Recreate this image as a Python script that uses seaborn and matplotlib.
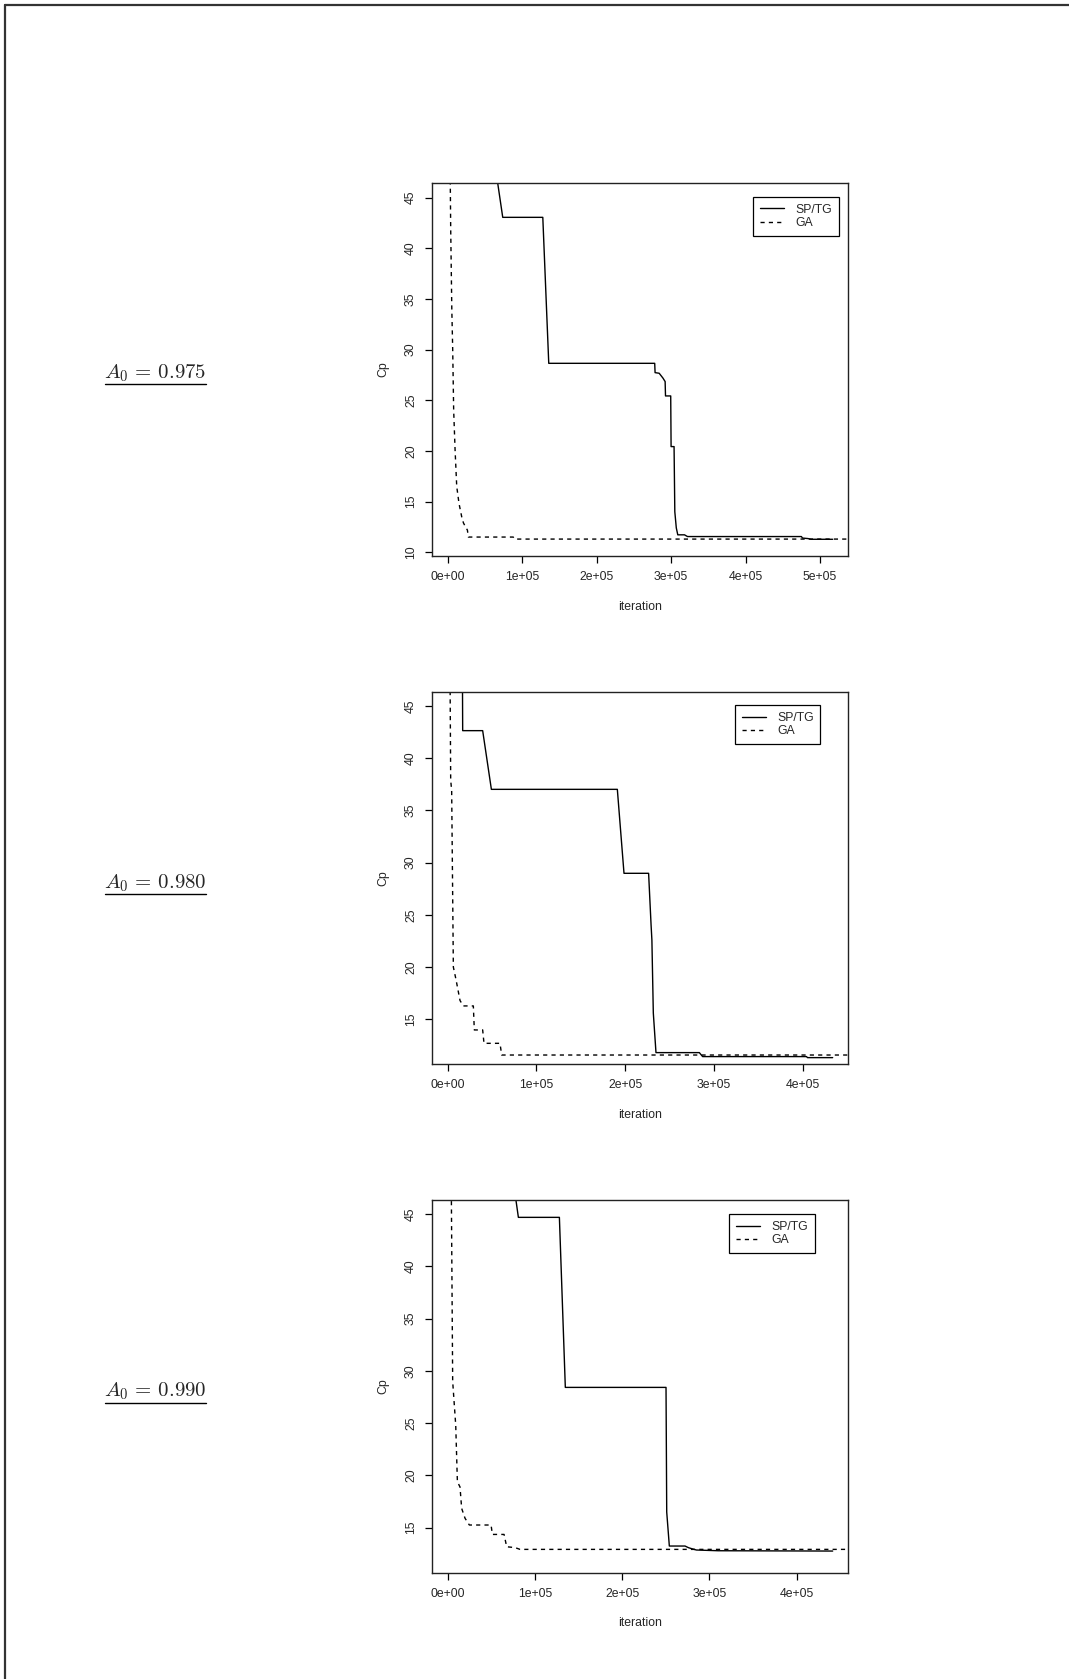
import numpy as np
import pandas as pd
import matplotlib
matplotlib.use("Agg")
import matplotlib.pyplot as plt
from matplotlib.lines import Line2D
import seaborn as sns

# panel labels
a0_labels = [r"$A_0\,=\,0.975$", r"$A_0\,=\,0.980$", r"$A_0\,=\,0.990$"]

# A0 = 0.975
sp1_x = [60000, 73900, 127700, 135700, 278000, 278500, 284000, 289000, 292000, 292500,
         299500, 300000, 304000, 305000, 307000, 309000, 318000, 322000, 475000, 476500,
         484000, 488000, 517000]
sp1_y = [50.0, 43.06, 43.06, 28.65, 28.65, 27.73, 27.67, 27.2, 26.85, 25.43,
         25.43, 20.43, 20.43, 14.0, 12.4, 11.72, 11.72, 11.55, 11.55, 11.4,
         11.35, 11.28, 11.28]
ga1_x = [3000, 4000, 5500, 6700, 8000, 9900, 12100, 15200, 18800, 21100, 24600, 26400,
         27800, 88000, 90000, 560000]
ga1_y = [50.0, 42.0, 34.0, 30.0, 24.0, 20.1, 16.5, 14.8, 13.5, 12.9, 12.4, 12.2,
         11.5, 11.5, 11.3, 11.3]

# A0 = 0.980
sp2_x = [16000, 16900, 39400, 49200, 191000, 198500, 226200, 229000, 229900, 231500,
         234500, 283300, 287000, 404000, 405000, 433400]
sp2_y = [60.0, 42.64, 42.64, 37.02, 37.02, 28.98, 28.98, 24.0, 22.6, 15.6,
         11.81, 11.81, 11.43, 11.43, 11.33, 11.33]
ga2_x = [1800, 3400, 4500, 6400, 9400, 13900, 17600, 28900, 30000, 39400, 40900, 58900,
         60800, 470000]
ga2_y = [60.0, 37.9, 36.9, 20.0, 18.8, 16.8, 16.28, 16.28, 13.98, 13.98, 12.7, 12.7,
         11.58, 11.58]

# A0 = 0.990
sp3_x = [72000, 81000, 128000, 134800, 250200, 251000, 254000, 272000, 276000, 281500,
         285000, 310000, 441200]
sp3_y = [50.0, 44.68, 44.68, 28.42, 28.42, 16.5, 13.25, 13.25, 13.09, 12.95,
         12.87, 12.8, 12.77]
ga3_x = [3500, 5700, 9200, 11100, 14100, 16000, 19900, 24800, 49700, 51200, 64600,
         67600, 77200, 82900, 470000]
ga3_y = [55.0, 29.0, 24.8, 19.4, 18.9, 16.85, 15.9, 15.26, 15.26, 14.36, 14.36,
         13.18, 13.1, 12.93, 12.93]

panels = [
    (sp1_x, sp1_y, ga1_x, ga1_y, (-20700, 538000), (9.63, 46.45), 5, [10, 15, 20, 25, 30, 35, 40, 45]),
    (sp2_x, sp2_y, ga2_x, ga2_y, (-17300, 451000), (10.72, 46.37), 4, [15, 20, 25, 30, 35, 40, 45]),
    (sp3_x, sp3_y, ga3_x, ga3_y, (-17650, 459100), (10.70, 46.34), 4, [15, 20, 25, 30, 35, 40, 45]),
]

sns.set_style("white")
plt.rcParams["font.family"] = ["Liberation Sans", "DejaVu Sans"]
plt.rcParams["mathtext.fontset"] = "cm"

W, H = 1069, 1679
fig = plt.figure(figsize=(W / 100, H / 100), dpi=100)

# axes boxes in pixels: (left, top, right, bottom)
boxes = [(432.3, 183, 848.3, 556), (432.3, 691.7, 848.3, 1064), (432.3, 1200, 848.3, 1572.7)]
legend_anchor = [(0.977, 0.963), (0.933, 0.964), (0.919, 0.962)]
label_y = [373, 883, 1391]
underline_y = [384.3, 894.3, 1402.7]
fs = 8.8

for i, (sx, sy, gx, gy, xl, yl, nt, yt) in enumerate(panels):
    l, t, r, b = boxes[i]
    ax = fig.add_axes([l / W, 1 - b / H, (r - l) / W, (b - t) / H])
    df = pd.DataFrame({
        "iteration": list(sx) + list(gx),
        "Cp": list(sy) + list(gy),
        "method": ["SP/TG"] * len(sx) + ["GA"] * len(gx),
    })
    sns.lineplot(data=df, x="iteration", y="Cp", style="method",
                 style_order=["SP/TG", "GA"], dashes={"SP/TG": "", "GA": (3, 3)},
                 color="black", estimator=None, sort=False, lw=1.0, ax=ax, legend=False)
    ax.set_xlim(*xl)
    ax.set_ylim(*yl)
    xt = np.arange(0, nt + 1) * 1e5
    ax.set_xticks(xt)
    ax.set_xticklabels([f"{v:.0e}" for v in xt])
    ax.set_yticks(yt)
    ax.set_yticklabels([str(v) for v in yt], rotation=90, va="center")
    ax.tick_params(axis="both", direction="out", length=5, width=0.9, labelsize=fs,
                   color="black", bottom=True, left=True, pad=6)
    for s in ax.spines.values():
        s.set_color("#222222")
        s.set_linewidth(1.0)
    ax.set_xlabel("iteration", fontsize=fs, va="center")
    ax.xaxis.set_label_coords(0.5, -50.7 / (b - t))
    ax.set_ylabel("Cp", fontsize=fs, va="center", ha="center")
    ax.yaxis.set_label_coords(-(l - 383.3) / (r - l), 0.5)

    lines = ax.get_lines()
    leg = ax.legend(lines[:2], ["SP/TG", "GA"], loc="upper right",
                    bbox_to_anchor=legend_anchor[i], fontsize=fs, frameon=True,
                    fancybox=False, framealpha=1, edgecolor="black",
                    handlelength=2.0, handletextpad=0.9, borderpad=0.55,
                    labelspacing=0.12, borderaxespad=0)
    leg.get_frame().set_linewidth(0.9)

    fig.text(155.5 / W, 1 - label_y[i] / H, a0_labels[i], ha="center", va="center",
             fontsize=15)
    fig.add_artist(Line2D([105 / W, 206 / W], [1 - underline_y[i] / H] * 2,
                          color="black", lw=1.0, transform=fig.transFigure))

# page frame (left and top edges only)
fig.add_artist(Line2D([4.5 / W, 4.5 / W], [0, 1 - 4.5 / H], color="#333333", lw=1.6,
                      transform=fig.transFigure))
fig.add_artist(Line2D([4.5 / W, 1], [1 - 5 / H, 1 - 5 / H], color="#333333", lw=1.6,
                      transform=fig.transFigure))

fig.savefig("out.png", dpi=100)
